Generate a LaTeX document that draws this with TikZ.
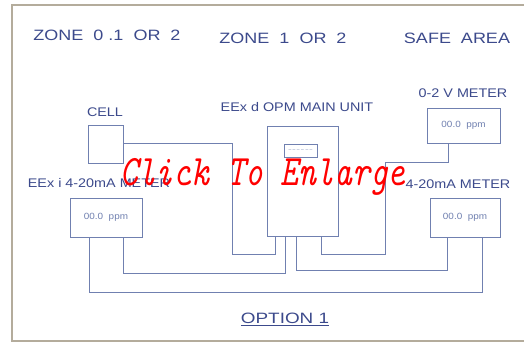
\documentclass[tikz,border=0pt]{standalone}
\usepackage{fontspec}
\setmainfont{Liberation Sans}
\definecolor{txt}{HTML}{3C4A8C}
\definecolor{wire}{HTML}{7080B0}
\definecolor{frame}{HTML}{B4AC9C}
\begin{document}
\begin{tikzpicture}[x=1pt,y=-1pt,
  wireline/.style={draw=wire,line width=1pt},
  boxst/.style={draw=wire,line width=1pt,fill=white,inner sep=0pt},
  hdr/.style={text=txt,font=\fontsize{15}{15}\selectfont,inner sep=1pt,xscale=1.2},
  lbl/.style={text=txt,font=\fontsize{12.5}{13}\selectfont,inner sep=0pt,xscale=1.15},
  small/.style={text=wire,font=\fontsize{9}{9}\selectfont,inner sep=0pt,xscale=1.1}]
\useasboundingbox (0,0) rectangle (524,346);
\fill[white] (0,0) rectangle (524,346);
% outer frame
\draw[frame,line width=1.3pt] (530,5) -- (12,5) -- (12,341) -- (530,341);
% headers
\node[hdr] (h1) at (107,35) {ZONE\ \ 0 .1\ \ OR\ \ 2};
\node[hdr] (h2) at (283,38) {ZONE\ \ 1\ \ OR\ \ 2};
\node[hdr] (h3) at (457,38) {SAFE\ \ AREA};
% labels
\node[lbl] (lcell) at (105,112) {CELL};
\node[lbl] (lmain) at (297,107) {EEx d OPM MAIN UNIT};
\node[lbl] (lv) at (463,93) {0-2 V METER};
\node[lbl] (lim) at (99,183) {EEx i 4-20mA METER};
\node[lbl] (lma) at (458,184) {4-20mA METER};
% boxes
\node[boxst,minimum width=35pt,minimum height=38pt] (cell) at (105.5,144) {};
\node[boxst,minimum width=71pt,minimum height=110pt] (main) at (302.5,181) {};
\node[boxst,minimum width=33pt,minimum height=13pt] (disp) at (300.5,150.5) {};
\node[text=wire,font=\fontsize{5}{5}\selectfont,inner sep=0pt] (dt) at (disp) {-- -- -- --\,\,-- --};
\node[boxst,minimum width=72pt,minimum height=39pt] (mL) at (106,217.5) {};
\node[small] (tL) at (mL) {00.0\ \ ppm};
\node[boxst,minimum width=73pt,minimum height=35pt] (mV) at (463.5,125.5) {};
\node[small] (tV) at (mV) {00.0\ \ ppm};
\node[boxst,minimum width=70pt,minimum height=39pt] (mA) at (465,217.5) {};
\node[small] (tA) at (mA) {00.0\ \ ppm};
% wires
\coordinate (c1) at (232,143);
\draw[wireline] (cell.east |- c1) -- (c1) -- (232,254) -| ([xshift=-27.5pt]main.south);
\draw[wireline] ([xshift=-17pt]mL.south) -- (89,292) -| ([xshift=17pt]mA.south);
\draw[wireline] ([xshift=17pt]mL.south) -- (123,273) -| ([xshift=-17.5pt]main.south);
\draw[wireline] ([xshift=-6.5pt]main.south) -- (296,270) -| ([xshift=-18pt]mA.south);
\draw[wireline] ([xshift=18.5pt]main.south) -- (321,254) -- (385,254) -- (385,162) -| ([xshift=-15.5pt]mV.south);
% footer
\node[hdr,xscale=1.05] (opt) at (285,319) {\underline{OPTION 1}};
% overlay
\node[text=red,font=\ttfamily\itshape\fontsize{34}{34}\selectfont,inner sep=0pt,anchor=base,yscale=1.28] (click) at (263,185) {Click To Enlarge};
\end{tikzpicture}
\end{document}
